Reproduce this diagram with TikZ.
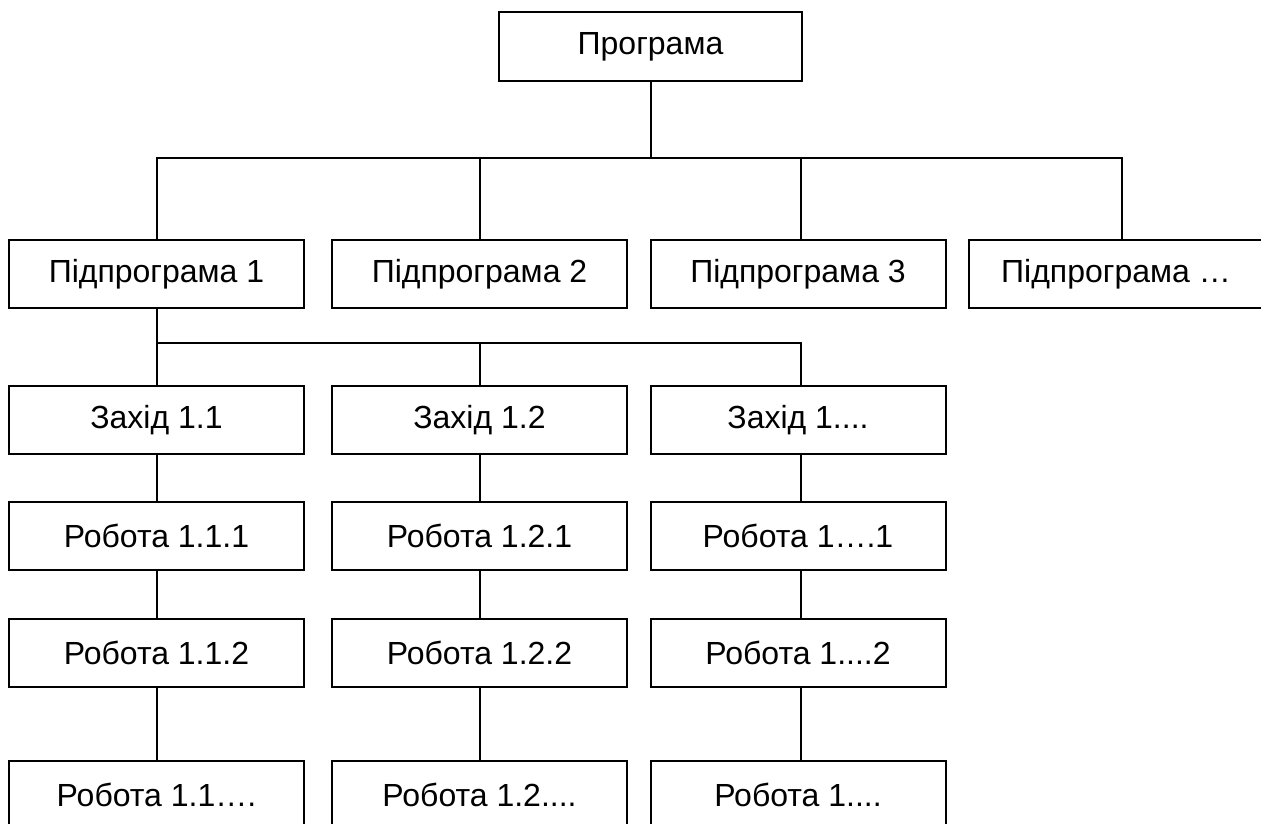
\documentclass[tikz,border=0pt]{standalone}
\usepackage{fontspec}
\setmainfont{Liberation Sans}
\begin{document}
\begin{tikzpicture}[x=1pt,y=-1pt,
  box/.style={draw,line width=2pt,minimum width=295pt,minimum height=68pt,inner sep=0pt,font=\fontsize{32}{37}\selectfont},
  conn/.style={line width=2pt}]
\useasboundingbox (0,0) rectangle (1261,824);
\clip (0,0) rectangle (1261,824);
\fill[white] (0,0) rectangle (1261,824);
\node[box,minimum width=303pt,minimum height=69pt] (top) at (650.5,46.5) {Програма};
\node[box] (s1) at (156.5,274) {Підпрограма 1};
\node[box] (s2) at (479.5,274) {Підпрограма 2};
\node[box] (s3) at (798,274) {Підпрограма 3};
\node[box] (s4) at (1116,274) {Підпрограма …};
\node[box] (z1) at (156.5,420) {Захід 1.1};
\node[box] (z2) at (479.5,420) {Захід 1.2};
\node[box] (z3) at (798,420) {Захід 1....};
\node[box] (r11) at (156.5,536) {Робота 1.1.1};
\node[box] (r21) at (479.5,536) {Робота 1.2.1};
\node[box] (r31) at (798,536) {Робота 1….1};
\node[box] (r12) at (156.5,653) {Робота 1.1.2};
\node[box] (r22) at (479.5,653) {Робота 1.2.2};
\node[box] (r32) at (798,653) {Робота 1....2};
\node[box] (r13) at (156.5,795) {Робота 1.1….};
\node[box] (r23) at (479.5,795) {Робота 1.2....};
\node[box] (r33) at (798,795) {Робота 1....};
\coordinate (bus1) at (0,158);
\coordinate (bus2) at (0,343);
\draw[conn] (top.south) -- (top.south |- bus1);
\draw[conn] (s1.north) -- (s1.north |- bus1) -- ([xshift=6pt]s4.north |- bus1) -- ([xshift=6pt]s4.north);
\draw[conn] (s2.north) -- (s2.north |- bus1);
\draw[conn] ([xshift=3pt]s3.north) -- ([xshift=3pt]s3.north |- bus1);
\draw[conn] (s1.south) -- (z1.north);
\draw[conn] (s1.south |- bus2) -- ([xshift=3pt]z3.north |- bus2) -- ([xshift=3pt]z3.north);
\draw[conn] (z2.north) -- (z2.north |- bus2);
\foreach \c in {1,2}{
  \draw[conn] (z\c.south) -- (r\c1.north);
  \draw[conn] (r\c1.south) -- (r\c2.north);
  \draw[conn] (r\c2.south) -- (r\c3.north);
}
\draw[conn] ([xshift=3pt]z3.south) -- ([xshift=3pt]r31.north);
\draw[conn] ([xshift=3pt]r31.south) -- ([xshift=3pt]r32.north);
\draw[conn] ([xshift=3pt]r32.south) -- ([xshift=3pt]r33.north);
\end{tikzpicture}
\end{document}
